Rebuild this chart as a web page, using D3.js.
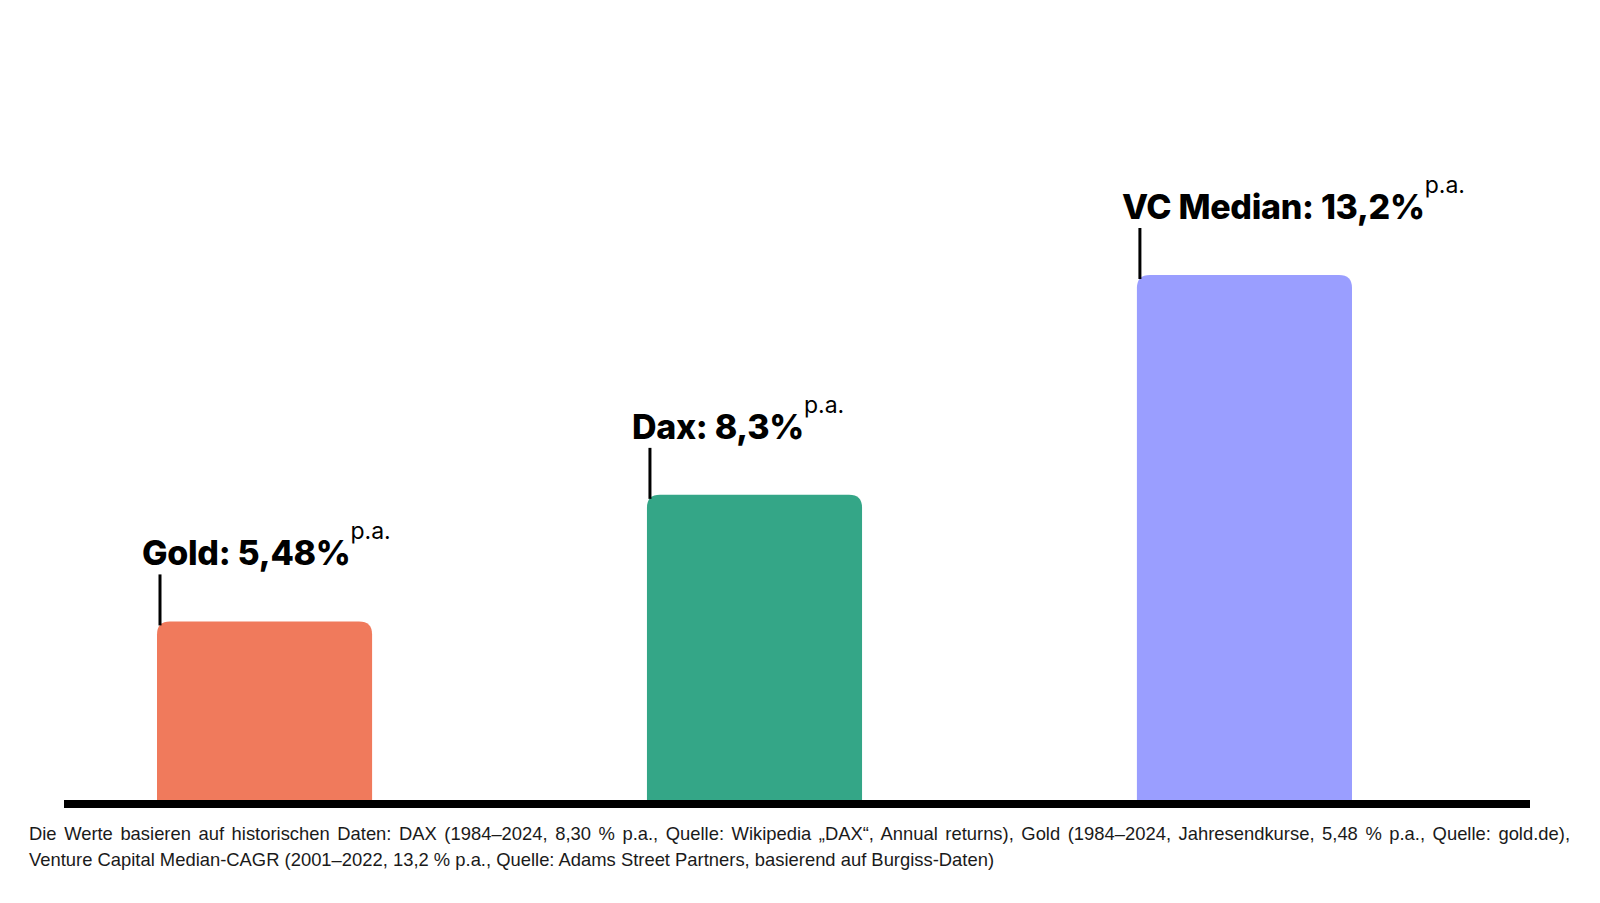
<!DOCTYPE html>
<html>
<head>
<meta charset="utf-8">
<script src="https://cdn.jsdelivr.net/npm/d3@7"></script>
<style>
  html, body { margin: 0; padding: 0; background: #fff; }
  svg { display: block; }
</style>
</head>
<body>
<svg width="1600" height="903"></svg>
<script>
// values
var categories = ["Gold", "Dax", "VC Median"];
var values = [5.48, 8.3, 13.2];
var valueLabels = ["5,48%", "8,3%", "13,2%"];
var colors = ["#f07a5c", "#34a687", "#9a9eff"];
var footnote = [
  "Die Werte basieren auf historischen Daten: DAX (1984–2024, 8,30 % p.a., Quelle: Wikipedia „DAX“, Annual returns), Gold (1984–2024, Jahresendkurse, 5,48 % p.a., Quelle: gold.de),",
  "Venture Capital Median-CAGR (2001–2022, 13,2 % p.a., Quelle: Adams Street Partners, basierend auf Burgiss-Daten)"
];

var svg = d3.select("svg"),
    width = +svg.attr("width"),
    height = +svg.attr("height");

var baseY = 800;

var x = d3.scaleBand()
    .domain(categories)
    .range([157, 1352])
    .paddingInner(0.561)
    .paddingOuter(0);

var y = d3.scaleLinear()
    .domain([1.5, 13.2])
    .range([baseY, 275]);

var data = categories.map(function (c, i) {
    return {name: c, value: values[i], label: valueLabels[i], color: colors[i]};
});

// bar with rounded top corners only
function barPath(x0, y0, w, h, r) {
    return "M" + x0 + "," + (y0 + h) +
        "V" + (y0 + r) +
        "Q" + x0 + "," + y0 + " " + (x0 + r) + "," + y0 +
        "H" + (x0 + w - r) +
        "Q" + (x0 + w) + "," + y0 + " " + (x0 + w) + "," + (y0 + r) +
        "V" + (y0 + h) + "Z";
}

var bars = svg.append("g").attr("class", "bars")
    .selectAll("path")
    .data(data)
    .enter().append("path")
    .attr("d", function (d) {
        return barPath(x(d.name), y(d.value), x.bandwidth(), baseY - y(d.value), 13);
    })
    .attr("fill", function (d) { return d.color; });

// little pointer lines
svg.append("g").attr("class", "ticks")
    .selectAll("line")
    .data(data)
    .enter().append("line")
    .attr("x1", function (d) { return x(d.name) + 3; })
    .attr("x2", function (d) { return x(d.name) + 3; })
    .attr("y1", function (d) { return y(d.value) - 47; })
    .attr("y2", function (d) { return y(d.value) + 4; })
    .attr("stroke", "#000")
    .attr("stroke-width", 3);

var labels = svg.append("g").attr("class", "labels")
    .selectAll("text")
    .data(data)
    .enter().append("text")
    .attr("x", function (d) { return x(d.name) - 15; })
    .attr("y", function (d) { return y(d.value) - 56; })
    .attr("font-family", "Inter, 'Open Sans', sans-serif")
    .attr("fill", "#000");

labels.append("tspan")
    .attr("font-size", 34)
    .attr("font-weight", 800)
    .attr("letter-spacing", "-0.3")
    .text(function (d) { return d.name + ": " + d.label; });

labels.append("tspan")
    .attr("dx", 0)
    .attr("dy", -26)
    .attr("font-size", 23)
    .attr("font-weight", 400)
    .text("p.a.");

// baseline
svg.append("rect")
    .attr("x", 64)
    .attr("y", baseY)
    .attr("width", 1530 - 64)
    .attr("height", 8)
    .attr("fill", "#000");

// footnote, first line justified
var noteLeft = 29, noteRight = 1570;
var notes = svg.append("g").attr("class", "footnote")
    .selectAll("text")
    .data(footnote)
    .enter().append("text")
    .attr("x", noteLeft)
    .attr("y", function (d, i) { return 840 + i * 26; })
    .attr("font-family", "'Liberation Sans', Arial, sans-serif")
    .attr("font-size", 18.4)
    .attr("fill", "#1a1a1a")
    .text(function (d) { return d; });

notes.filter(function (d, i) { return i === 0; })
    .each(function (d) {
        var w = this.getComputedTextLength();
        var spaces = d.split(" ").length - 1;
        var extra = (noteRight - noteLeft - w) / spaces;
        d3.select(this).style("word-spacing", extra + "px");
    });
</script>
</body>
</html>
